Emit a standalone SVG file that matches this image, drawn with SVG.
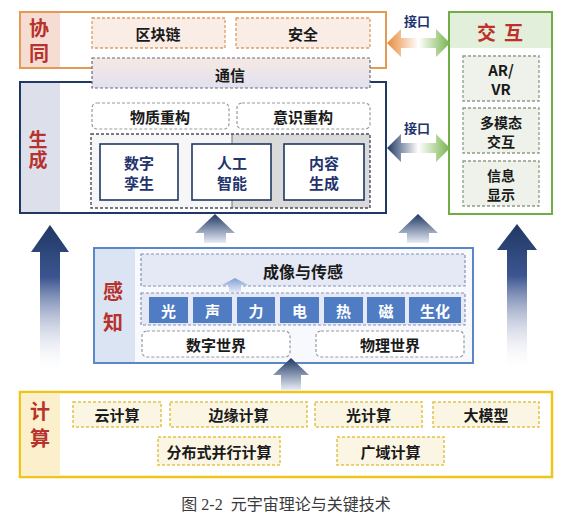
<svg xmlns="http://www.w3.org/2000/svg" width="574" height="520" viewBox="0 0 574 520">
<defs>
<style>
.t{font-family:"Noto Sans CJK SC","Noto Sans",sans-serif;font-weight:700;text-anchor:middle;dominant-baseline:central;fill:#1a1a1a;font-size:15px}
.lbl{font-size:20px;fill:#b8322d}
.vt{font-family:"Noto Sans CJK SC","Noto Sans",sans-serif;font-weight:700;text-anchor:middle;fill:#b8322d;writing-mode:vertical-rl}
.nv{fill:#22336e}
.w{fill:#ffffff}
.s14{font-size:14px}
.dOr{fill:#f9ede6;stroke:#e29c62;stroke-width:1.3;stroke-dasharray:3 2}
.dGr{fill:#ffffff;stroke:#9a9a9a;stroke-width:1.2;stroke-dasharray:3 2}
.dGn{fill:#eef2ea;stroke:#8e9c86;stroke-width:1.3;stroke-dasharray:3 2}
.dBl{stroke:#8192bb;stroke-width:1.2;stroke-dasharray:3 2}
.dYe{fill:#fbf5e3;stroke:#e2c248;stroke-width:1.5;stroke-dasharray:3 2}
.cell{fill:#4f7cc3}
.solid{fill:#ffffff;stroke:#1f3864;stroke-width:1.6}
</style>
<linearGradient id="gUp" x1="0" y1="0" x2="0" y2="1">
<stop offset="0" stop-color="#1f3864"/>
<stop offset="0.35" stop-color="#3c5590"/>
<stop offset="1" stop-color="#ffffff" stop-opacity="0"/>
</linearGradient>
<linearGradient id="gUpS" x1="0" y1="0" x2="0" y2="1">
<stop offset="0" stop-color="#1f3864"/>
<stop offset="1" stop-color="#e8ecf6"/>
</linearGradient>
<linearGradient id="gUpIn" x1="0" y1="0" x2="0" y2="1">
<stop offset="0" stop-color="#7f9fd6"/>
<stop offset="1" stop-color="#e4e9f6"/>
</linearGradient>
<linearGradient id="gOG" gradientUnits="userSpaceOnUse" x1="387" y1="0" x2="450" y2="0">
<stop offset="0" stop-color="#e8893a"/>
<stop offset="0.5" stop-color="#ffffff"/>
<stop offset="1" stop-color="#77b34c"/>
</linearGradient>
<linearGradient id="gNG" gradientUnits="userSpaceOnUse" x1="387" y1="0" x2="450" y2="0">
<stop offset="0" stop-color="#1f3864"/>
<stop offset="0.5" stop-color="#ffffff"/>
<stop offset="1" stop-color="#77b34c"/>
</linearGradient>
<linearGradient id="gTx" x1="0" y1="0" x2="0" y2="1">
<stop offset="0" stop-color="#f6e9e3"/>
<stop offset="1" stop-color="#e2e1f0"/>
</linearGradient>
</defs>

<g id="xietong">
<rect x="20" y="12" width="366" height="56" fill="#ffffff" stroke="#e39a55" stroke-width="2"/>
<rect x="21" y="13" width="39" height="54" fill="#f6ddd3"/>
<text class="vt" x="39" y="43" style="font-size:20px;letter-spacing:5px">协同</text>
<rect class="dOr" x="92" y="18" width="133" height="30"/>
<text class="t" x="158" y="33">区块链</text>
<rect class="dOr" x="236" y="18" width="134" height="30"/>
<text class="t" x="303" y="33">安全</text>
</g>

<g id="shengcheng">
<rect x="20" y="82" width="366" height="131" fill="#ffffff" stroke="#1f3864" stroke-width="2"/>
<rect x="21" y="83" width="39" height="129" fill="#dde0eb"/>
<text class="vt" x="38" y="150" style="font-size:19px;letter-spacing:1px">生成</text>
<rect class="dGr" x="92" y="103" width="137" height="26" rx="5"/>
<text class="t" x="160" y="116">物质重构</text>
<rect class="dGr" x="237" y="103" width="133" height="26" rx="5"/>
<text class="t" x="303" y="116">意识重构</text>
<rect x="91" y="134" width="141" height="74" fill="#f6f6f6"/>
<rect x="232" y="134" width="138" height="74" fill="#dadada"/>
<line x1="232" y1="134" x2="232" y2="208" stroke="#777777" stroke-width="1"/>
<rect x="91" y="134" width="279" height="74" fill="none" stroke="#4a4f60" stroke-width="1.4" stroke-dasharray="3 2"/>
<rect class="solid" x="100" y="144" width="78" height="56"/>
<text class="t nv" x="139" y="162">数字</text>
<text class="t nv" x="139" y="182">孪生</text>
<rect class="solid" x="192" y="144" width="79" height="56"/>
<text class="t nv" x="232" y="162">人工</text>
<text class="t nv" x="232" y="182">智能</text>
<rect class="solid" x="284" y="144" width="80" height="56"/>
<text class="t nv" x="324" y="162">内容</text>
<text class="t nv" x="324" y="182">生成</text>
</g>

<g id="tongxin">
<rect x="92" y="58" width="278" height="30" fill="url(#gTx)" stroke="#6a6a7a" stroke-width="1.2" stroke-dasharray="3 2"/>
<text class="t" x="230" y="74">通信</text>
</g>

<g id="jiaohu">
<rect x="449" y="12" width="103" height="202" fill="#ffffff" stroke="#70ad47" stroke-width="2"/>
<rect x="450" y="13" width="101" height="35" fill="#e2efda"/>
<text class="t" x="477" y="31" style="text-anchor:start;font-size:19px;fill:#c0302b;letter-spacing:8px">交互</text>
<rect class="dGn" x="463" y="56" width="76" height="45"/>
<text class="t" x="501" y="69">AR/</text>
<text class="t" x="501" y="88">VR</text>
<rect class="dGn" x="463" y="108" width="76" height="45"/>
<text class="t s14" x="501" y="121.5">多模态</text>
<text class="t s14" x="501" y="140.5">交互</text>
<rect class="dGn" x="463" y="161" width="76" height="45"/>
<text class="t s14" x="501" y="174.5">信息</text>
<text class="t s14" x="501" y="193.5">显示</text>
</g>

<g id="ganzhi">
<rect x="94" y="248" width="379" height="115" fill="#f7f9fd" stroke="#5b87c8" stroke-width="2"/>
<rect x="95" y="249" width="40" height="113" fill="#dbe4f3"/>
<text class="t lbl" x="113" y="290">感</text>
<text class="t lbl" x="113" y="321">知</text>
<rect class="dBl" x="141" y="254" width="324" height="32" fill="#e5e8f5"/>
<text class="t" x="303" y="271" style="font-size:16px">成像与传感</text>
<rect class="dBl" x="141" y="293" width="324" height="32" fill="#e5e8f5"/>
<rect class="cell" x="149" y="297" width="39" height="26"/>
<text class="t w" x="168.5" y="310">光</text>
<rect class="cell" x="193" y="297" width="39" height="26"/>
<text class="t w" x="212.5" y="310">声</text>
<rect class="cell" x="237" y="297" width="38" height="26"/>
<text class="t w" x="256" y="310">力</text>
<rect class="cell" x="280" y="297" width="39" height="26"/>
<text class="t w" x="299.5" y="310">电</text>
<rect class="cell" x="324" y="297" width="39" height="26"/>
<text class="t w" x="343.5" y="310">热</text>
<rect class="cell" x="367" y="297" width="38" height="26"/>
<text class="t w" x="386" y="310">磁</text>
<rect class="cell" x="409" y="297" width="52" height="26"/>
<text class="t w" x="435" y="310">生化</text>
<rect class="dGr" x="142" y="331" width="148" height="26" rx="5"/>
<text class="t" x="216" y="344">数字世界</text>
<rect class="dGr" x="316" y="331" width="148" height="26" rx="5"/>
<text class="t" x="390" y="344">物理世界</text>
</g>

<g id="jisuan">
<rect x="20" y="392" width="532" height="85" fill="#ffffff" stroke="#f0c419" stroke-width="2.5"/>
<rect x="21.5" y="393.5" width="38.5" height="82" fill="#fcf0cc"/>
<text class="t lbl" x="40" y="410">计</text>
<text class="t lbl" x="40" y="437">算</text>
<rect class="dYe" x="73" y="402" width="88" height="25"/>
<text class="t" x="117" y="414.5">云计算</text>
<rect class="dYe" x="170" y="402" width="137" height="25"/>
<text class="t" x="238.5" y="414.5">边缘计算</text>
<rect class="dYe" x="315" y="402" width="107" height="25"/>
<text class="t" x="368.5" y="414.5">光计算</text>
<rect class="dYe" x="433" y="402" width="106" height="25"/>
<text class="t" x="486" y="414.5">大模型</text>
<rect class="dYe" x="158" y="437" width="122" height="28"/>
<text class="t" x="219" y="451">分布式并行计算</text>
<rect class="dYe" x="337" y="437" width="107" height="28"/>
<text class="t" x="390.5" y="451">广域计算</text>
</g>

<g id="connectors">
<polygon points="387,43 401,29 401,38 436,38 436,29 450,43 436,57 436,48 401,48 401,57" fill="url(#gOG)"/>
<polygon points="387,148 401,134 401,143 436,143 436,134 450,148 436,162 436,153 401,153 401,162" fill="url(#gNG)"/>
<text class="t nv" x="417" y="20" style="font-size:13px">接口</text>
<text class="t nv" x="417" y="127" style="font-size:13px">接口</text>
<polygon points="50,225 69,252 60,252 60,375 40,375 40,252 31,252" fill="url(#gUp)"/>
<polygon points="517,224 537,250 527,250 527,372 507,372 507,250 497,250" fill="url(#gUp)"/>
<polygon points="215,214 235,233 226,233 226,243 204,243 204,233 195,233" fill="url(#gUpS)"/>
<polygon points="418,214 438,233 429,233 429,243 407,243 407,233 398,233" fill="url(#gUpS)"/>
<polygon points="291,358 309,375 301,375 301,390 281,390 281,375 273,375" fill="url(#gUpS)"/>
<polygon points="235,278 248,285 241,285 241,292 229,292 229,285 222,285" fill="url(#gUpIn)"/>
</g>

<text x="286" y="510" xml:space="preserve" style="font-family:'Liberation Serif','Noto Sans CJK SC',serif;font-size:16px;fill:#3a3a3a;text-anchor:middle;white-space:pre">图 2-2  元宇宙理论与关键技术</text>
</svg>
